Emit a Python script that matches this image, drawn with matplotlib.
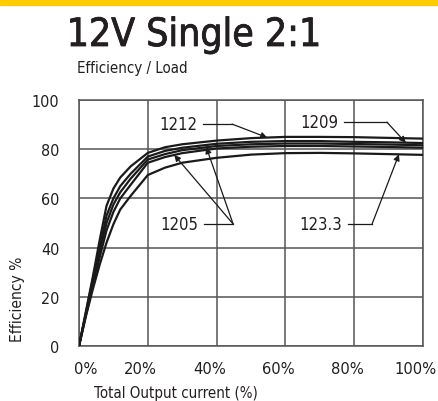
import os
import matplotlib
matplotlib.use("Agg")
import matplotlib.pyplot as plt
import matplotlib.transforms as mtransforms
import matplotlib.patheffects as pe
from matplotlib import font_manager
import numpy as np


def find_face(wanted):
    # wanted: list of basename endings, tried in order
    files = {os.path.basename(f.fname).lower(): f.fname for f in font_manager.fontManager.ttflist}
    for w in wanted:
        for base, path in files.items():
            if base.endswith(w):
                return font_manager.FontProperties(fname=path)
    return None


body = find_face(['sans-condensed.ttf', 'sanscondensed.ttf', 'condensed.ttf', 'narrow.ttf'])
if body is None:
    body = font_manager.FontProperties(family='Liberation Sans')
head = body

# load in % of total output current
load = [0, 2, 4, 6, 8, 10, 12, 15, 20, 25, 30, 40, 50, 60, 70, 80, 90, 100]

# efficiency % for each model
eff_1212 = [0, 14, 28, 43, 57, 64, 68.5, 73, 78.5, 80.8, 82, 83.5, 84.5, 85, 85, 84.9, 84.6, 84.3]
eff_1209 = [0, 13.5, 27, 40, 53, 60, 65, 70, 77, 79.3, 80.6, 82.2, 83, 83.3, 83.3, 83, 82.8, 82.5]
eff_1205a = [0, 13, 25.5, 38, 50, 57.5, 62.5, 68, 75.8, 78, 79.6, 81.3, 82, 82.3, 82.3, 82.1, 81.9, 81.6]
eff_1205b = [0, 12.5, 24.5, 36, 47, 54.5, 60, 65.5, 74.5, 76.8, 78.4, 80.3, 81, 81.3, 81.3, 81.1, 80.9, 80.6]
eff_1233 = [0, 12, 23, 33, 42, 49.5, 55.5, 61, 69.5, 72.5, 74.5, 76.5, 77.8, 78.4, 78.5, 78.3, 78, 77.7]

curves = [eff_1212, eff_1209, eff_1205a, eff_1205b, eff_1233]
xticks = ['0%', '20%', '40%', '60%', '80%', '100%']
yticks = [0, 20, 40, 60, 80, 100]

INK = '#231f20'

fig = plt.figure(figsize=(4.38, 4.02), dpi=100)

# yellow strip across the top
fig.patches.append(plt.Rectangle((0, 1 - 6/402), 1, 6/402, transform=fig.transFigure,
                                 color='#FFCC00', zorder=0))

fig.text(194/438, 1 - 47/402, '12V Single 2:1', ha='center', va='baseline',
         fontproperties=head, fontsize=28, color=INK,
         path_effects=[pe.withStroke(linewidth=0.6, foreground=INK)])
fig.text(77/438, 1 - 73/402, 'Efficiency / Load', ha='left', va='baseline',
         fontproperties=body, fontsize=10.8, color=INK)

ax = fig.add_axes([79/438, 55/402, 344/438, 246/402])
for c in curves:
    ax.plot(load, c, color='#1a1a1a', lw=1.6, zorder=3)

ax.set_xlim(0, 100)
ax.set_ylim(0, 100)
ax.set_xticks([0, 20, 40, 60, 80, 100])
ax.set_xticklabels(xticks, fontproperties=body, fontsize=11.8)
ax.set_yticks(yticks)
ax.set_yticklabels([str(v) for v in yticks], fontproperties=body, fontsize=11.5)
ax.grid(True, color='#555555', lw=1.1)
ax.tick_params(length=0, colors=INK, pad=11)
ax.tick_params(axis='y', pad=14)
for s in ax.spines.values():
    s.set_color('#555555')
    s.set_linewidth(1.1)

# the printed x labels sit a little left of their gridlines, 0% a little right
for i, lab in enumerate(ax.get_xticklabels()):
    dx = 7 if i == 0 else -7
    lab.set_transform(lab.get_transform() + mtransforms.ScaledTranslation(dx/100, 0, fig.dpi_scale_trans))

fig.text(176/438, 1 - 394/402, 'Total Output current (%)', ha='center', va='center',
         fontproperties=body, fontsize=10.8, color=INK)
fig.text(18/438, 1 - 299/402, 'Efficiency %', ha='center', va='center',
         rotation=90, fontproperties=body, fontsize=11.2, color=INK)


def callout(label, text_x, text_y, lead_end, targets):
    ax.text(text_x, text_y, label, ha='right', va='center', fontproperties=body,
            fontsize=12, color=INK, bbox=dict(fc='white', ec='none', pad=1), zorder=5)
    ax.plot([text_x + 1.7, lead_end], [text_y, text_y], color='#1a1a1a', lw=0.9, zorder=5)
    for tx, c in targets:
        ty = np.interp(tx, load, c)
        ax.annotate('', xy=(tx, ty), xytext=(lead_end, text_y),
                    arrowprops=dict(arrowstyle='-|>', color='#1a1a1a', lw=0.9,
                                    mutation_scale=9, shrinkA=0, shrinkB=0),
                    zorder=5)


callout('1212', 34.3, 90.2, 44.5, [(54.7, eff_1212)])
callout('1209', 75.3, 91, 89.5, [(95, eff_1209)])
callout('123.3', 76.5, 49.6, 85.2, [(93, eff_1233)])
callout('1205', 34.6, 49.6, 44.8, [(27.7, eff_1205b), (37, eff_1205a)])

fig.savefig('out.png', dpi=100)
